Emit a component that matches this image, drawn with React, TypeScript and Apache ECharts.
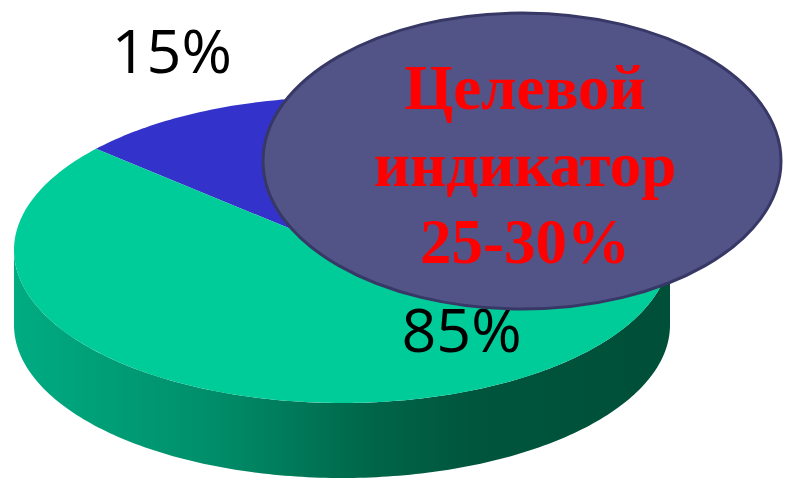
import React, { useEffect, useRef } from 'react';
import * as echarts from 'echarts';

// ---- data ----
const sliceNames = ['Доля 1', 'Доля 2'];
const sliceValues = [15, 85];
const sliceLabels = ['15%', '85%'];
const targetLines = ['Целевой', 'индикатор', '25-30%'];

// ---- geometry / style ----
const CX = 342, CY = 250, RX = 328, RY = 153, DEPTH = 75;
const START_DEG = -138.6;
const COLORS = ['#3333CC', '#00CC99'];
const LABEL_POS = [[1.41, 1.41], [0.99, 0.55]];

export default function App() {
  const ref = useRef<HTMLDivElement>(null);
  useEffect(() => {
    document.body.style.margin = '0';
    const chart = echarts.init(ref.current!, null, { renderer: 'svg' });
    const total = sliceValues.reduce((a, b) => a + b, 0);
    const starts: number[] = [];
    let acc = START_DEG;
    sliceValues.forEach((v) => { starts.push(acc); acc += (v / total) * 360; });
    const pt = (deg: number, dy = 0) => {
      const r = (deg * Math.PI) / 180;
      return [CX + RX * Math.cos(r), CY + RY * Math.sin(r) + dy];
    };
    const arc = (a0: number, a1: number, dy = 0) => {
      const n = Math.max(2, Math.ceil(Math.abs(a1 - a0)));
      const pts: number[][] = [];
      for (let i = 0; i <= n; i++) pts.push(pt(a0 + ((a1 - a0) * i) / n, dy));
      return pts;
    };
    const sideFill = {
      type: 'linear', x: 0, y: 0, x2: 1, y2: 0,
      colorStops: [
        { offset: 0, color: '#00AC82' },
        { offset: 0.3, color: '#008E6A' },
        { offset: 0.55, color: '#006548' },
        { offset: 0.7, color: '#00553D' },
        { offset: 1, color: '#004F38' },
      ],
    };

    chart.setOption({
      animation: false,
      series: [
        {
          type: 'custom',
          coordinateSystem: 'none',
          data: sliceValues.map((v, i) => ({ name: sliceNames[i], value: v })),
          renderItem: (params: any, api: any) => {
            const i = params.dataIndex;
            const v = api.value(0);
            const a0 = starts[i];
            const a1 = a0 + (v / total) * 360;
            const children: any[] = [];
            for (const k of [-360, 0, 360]) {
              const lo = Math.max(a0, k);
              const hi = Math.min(a1, k + 180);
              if (hi > lo) {
                const pts = arc(lo, hi).concat(arc(hi, lo, DEPTH));
                children.push({
                  type: 'polygon',
                  shape: { points: pts },
                  style: { fill: sideFill },
                  z2: 1,
                });
              }
            }
            children.push({
              type: 'polygon',
              shape: { points: [[CX, CY]].concat(arc(a0, a1)) },
              style: { fill: COLORS[i] },
              z2: 2,
            });
            const mid = ((a0 + a1) / 2) * Math.PI / 180;
            children.push({
              type: 'text',
              x: CX + RX * LABEL_POS[i][0] * Math.cos(mid),
              y: CY + RY * LABEL_POS[i][1] * Math.sin(mid),
              style: {
                text: sliceLabels[i],
                fill: '#000000',
                fontSize: 61,
                fontFamily: '"Open Sans"',
                align: 'center',
                verticalAlign: 'middle',
              },
              z2: 3,
            });
            return { type: 'group', children };
          },
        },
      ],
      graphic: [
        {
          type: 'ellipse',
          z: 100,
          shape: { cx: 522, cy: 161, rx: 259, ry: 148 },
          style: { fill: '#525488', stroke: '#383866', lineWidth: 3 },
        },
        {
          type: 'text',
          z: 101,
          x: 525,
          y: 165,
          style: {
            text: targetLines.join('\n'),
            fill: '#FF0000',
            fontSize: 63,
            fontWeight: 'bold',
            fontFamily: '"Liberation Serif", "Times New Roman", serif',
            align: 'center',
            verticalAlign: 'middle',
            lineHeight: 77,
          },
        },
      ],
    });
    return () => chart.dispose();
  }, []);
  return <div ref={ref} style={{ width: 801, height: 481 }} />;
}
